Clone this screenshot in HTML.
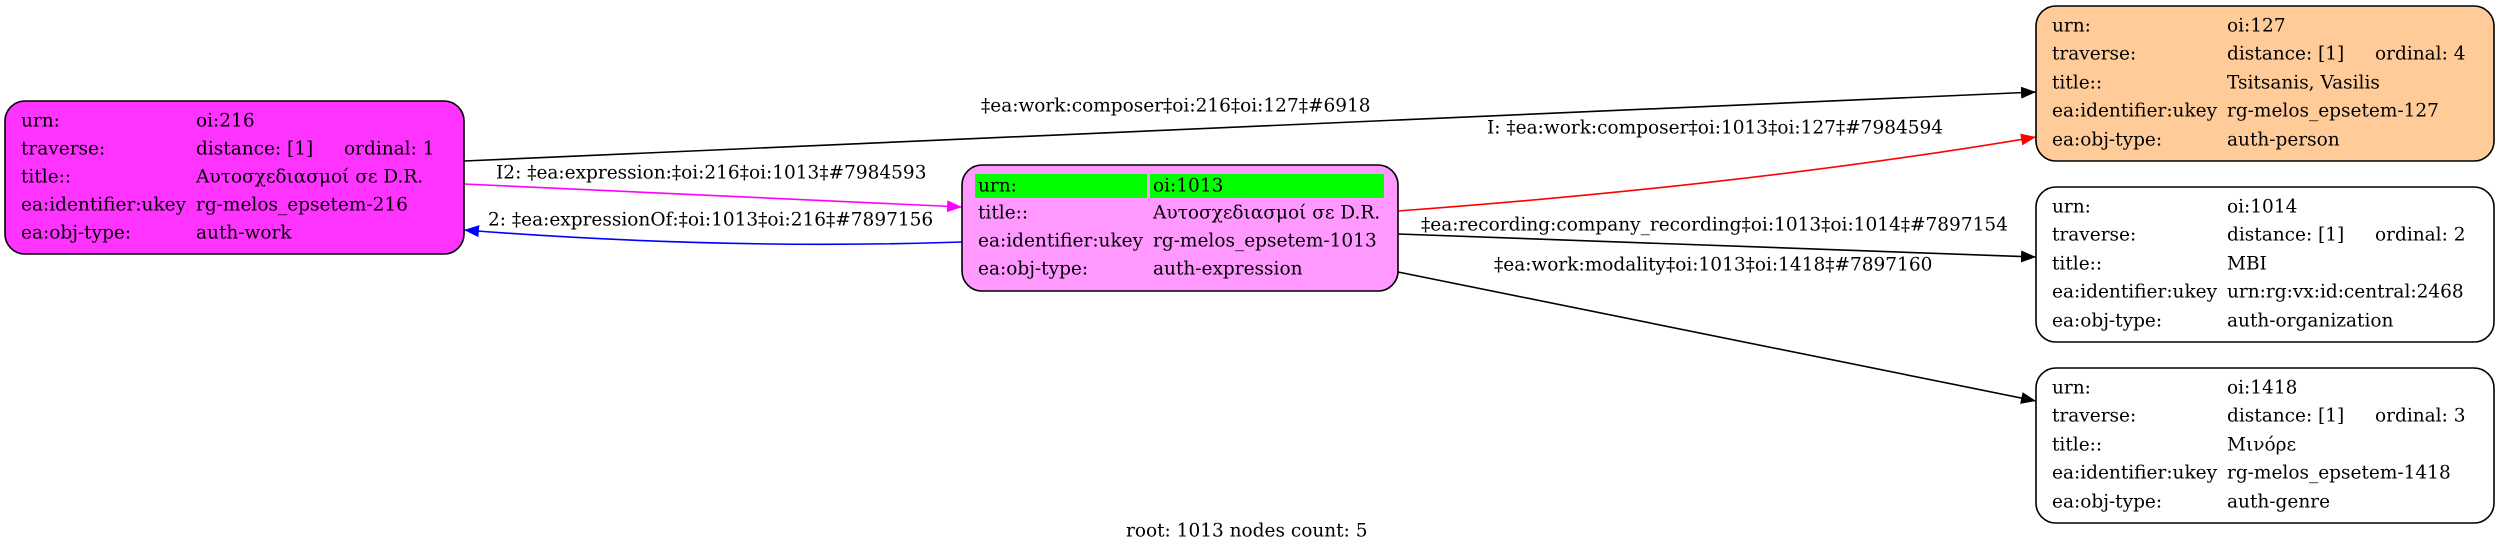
<!DOCTYPE html>
<html><head><meta charset="utf-8"><style>
html,body{margin:0;padding:0;background:#fff;}
svg{display:block;}
text{font-family:"DejaVu Serif","Liberation Serif",serif;font-size:18.5px;fill:#000;dominant-baseline:central;}
</style></head><body>
<svg width="2500" height="553" viewBox="0 0 2500 553" xmlns="http://www.w3.org/2000/svg">
<defs>
<marker id="ab" markerWidth="16" markerHeight="12" refX="15" refY="6" orient="auto" markerUnits="userSpaceOnUse"><polygon points="0,0 15,6 0,12" fill="#000"/></marker>
<marker id="ar" markerWidth="16" markerHeight="12" refX="15" refY="6" orient="auto" markerUnits="userSpaceOnUse"><polygon points="0,0 15,6 0,12" fill="#f00"/></marker>
<marker id="am" markerWidth="16" markerHeight="12" refX="15" refY="6" orient="auto" markerUnits="userSpaceOnUse"><polygon points="0,0 15,6 0,12" fill="#f0f"/></marker>
<marker id="au" markerWidth="16" markerHeight="12" refX="15" refY="6" orient="auto" markerUnits="userSpaceOnUse"><polygon points="0,0 15,6 0,12" fill="#00f"/></marker>
</defs>
<g fill="none" stroke-width="1.6">
<path d="M464,161 L2036,92" stroke="#000" marker-end="url(#ab)"/>
<path d="M1398,211 Q1750,185 2036,137" stroke="#f00" marker-end="url(#ar)"/>
<path d="M464,184 L962,207" stroke="#f0f" marker-end="url(#am)"/>
<path d="M962,242 Q720,250 464,230" stroke="#00f" marker-end="url(#au)"/>
<path d="M1398,234 L2036,257" stroke="#000" marker-end="url(#ab)"/>
<path d="M1398,272 L2036,401" stroke="#000" marker-end="url(#ab)"/>
</g>
<text x="981" y="106">‡ea:work:composer‡oi:216‡oi:127‡#6918</text>
<text x="1487" y="128">I: ‡ea:work:composer‡oi:1013‡oi:127‡#7984594</text>
<text x="1421" y="225">‡ea:recording:company_recording‡oi:1013‡oi:1014‡#7897154</text>
<text x="1494" y="265">‡ea:work:modality‡oi:1013‡oi:1418‡#7897160</text>
<text x="496" y="173">I2: ‡ea:expression:‡oi:216‡oi:1013‡#7984593</text>
<text x="488" y="220">2: ‡ea:expressionOf:‡oi:1013‡oi:216‡#7897156</text>

<rect x="5" y="101" width="459" height="153" rx="20" fill="#ff33ff" stroke="#000" stroke-width="1.6"/>
<text x="21" y="121">urn:</text><text x="196" y="121">oi:216</text>
<text x="21" y="149">traverse:</text><text x="196" y="149">distance: [1]</text><text x="344" y="149">ordinal: 1</text>
<text x="21" y="177">title::</text><text x="196" y="177">Αυτοσχεδιασμοί σε D.R.</text>
<text x="21" y="205">ea:identifier:ukey</text><text x="196" y="205">rg-melos_epsetem-216</text>
<text x="21" y="233">ea:obj-type:</text><text x="196" y="233">auth-work</text>

<rect x="962" y="165" width="436" height="126" rx="20" fill="#ff99ff" stroke="#000" stroke-width="1.6"/>
<rect x="975" y="174" width="172" height="24" fill="#00ff00"/>
<rect x="1150" y="174" width="234" height="24" fill="#00ff00"/>
<text x="978" y="186">urn:</text><text x="1153" y="186">oi:1013</text>
<text x="978" y="213">title::</text><text x="1153" y="213">Αυτοσχεδιασμοί σε D.R.</text>
<text x="978" y="241">ea:identifier:ukey</text><text x="1153" y="241">rg-melos_epsetem-1013</text>
<text x="978" y="269">ea:obj-type:</text><text x="1153" y="269">auth-expression</text>

<rect x="2036" y="6" width="458" height="155" rx="20" fill="#ffcc99" stroke="#000" stroke-width="1.6"/>
<text x="2052" y="26">urn:</text><text x="2227" y="26">oi:127</text>
<text x="2052" y="54">traverse:</text><text x="2227" y="54">distance: [1]</text><text x="2375" y="54">ordinal: 4</text>
<text x="2052" y="83">title::</text><text x="2227" y="83">Tsitsanis, Vasilis</text>
<text x="2052" y="111">ea:identifier:ukey</text><text x="2227" y="111">rg-melos_epsetem-127</text>
<text x="2052" y="140">ea:obj-type:</text><text x="2227" y="140">auth-person</text>

<rect x="2036" y="187" width="458" height="155" rx="20" fill="#fff" stroke="#000" stroke-width="1.6"/>
<text x="2052" y="207">urn:</text><text x="2227" y="207">oi:1014</text>
<text x="2052" y="235">traverse:</text><text x="2227" y="235">distance: [1]</text><text x="2375" y="235">ordinal: 2</text>
<text x="2052" y="264">title::</text><text x="2227" y="264">MBI</text>
<text x="2052" y="292">ea:identifier:ukey</text><text x="2227" y="292">urn:rg:vx:id:central:2468</text>
<text x="2052" y="321">ea:obj-type:</text><text x="2227" y="321">auth-organization</text>

<rect x="2036" y="368" width="458" height="155" rx="20" fill="#fff" stroke="#000" stroke-width="1.6"/>
<text x="2052" y="388">urn:</text><text x="2227" y="388">oi:1418</text>
<text x="2052" y="416">traverse:</text><text x="2227" y="416">distance: [1]</text><text x="2375" y="416">ordinal: 3</text>
<text x="2052" y="445">title::</text><text x="2227" y="445">Μινόρε</text>
<text x="2052" y="473">ea:identifier:ukey</text><text x="2227" y="473">rg-melos_epsetem-1418</text>
<text x="2052" y="502">ea:obj-type:</text><text x="2227" y="502">auth-genre</text>

<text x="1126" y="531">root: 1013 nodes count: 5</text>
</svg>
</body></html>
